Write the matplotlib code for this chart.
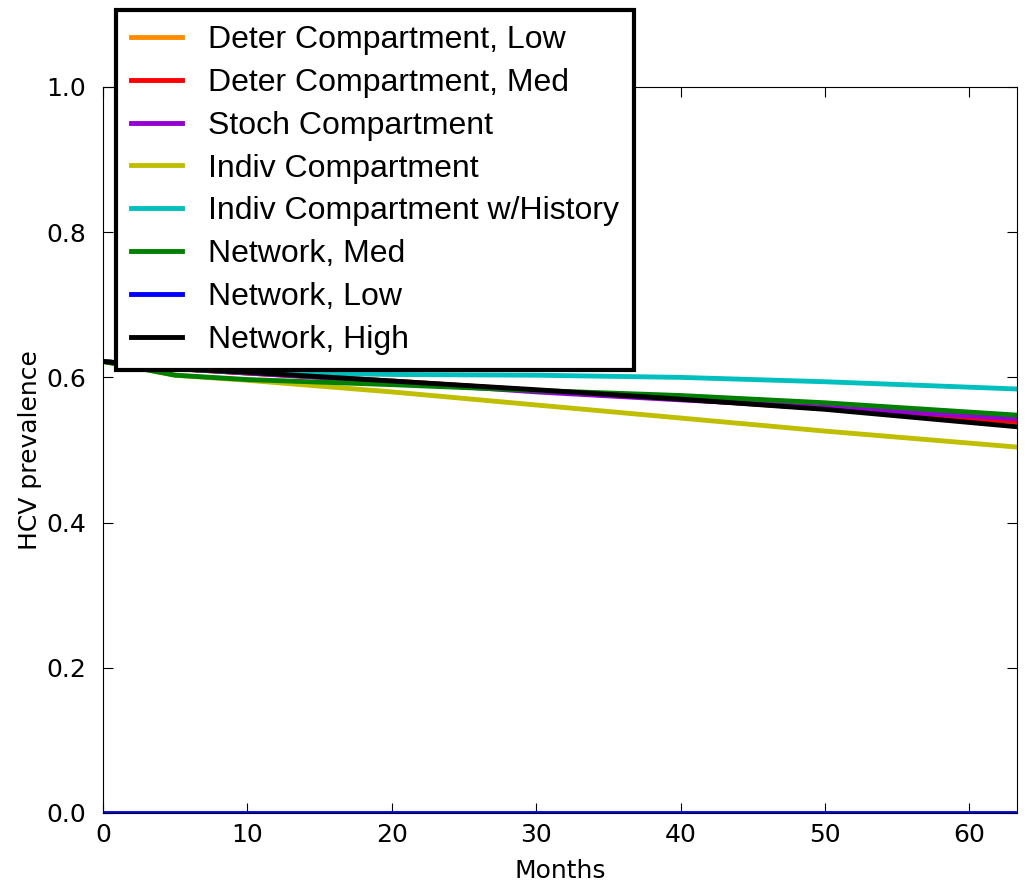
import numpy as np
import matplotlib
matplotlib.use("Agg")
import matplotlib.pyplot as plt

# -------------------------------
# 1. Data
# -------------------------------
months = [0, 5, 10, 20, 30, 40, 50, 63.3]

deter_low = [0.622, 0.612, 0.606, 0.595, 0.582, 0.570, 0.557, 0.539]
deter_med = [0.622, 0.612, 0.606, 0.595, 0.582, 0.570, 0.557, 0.539]
stoch = [0.622, 0.612, 0.606, 0.594, 0.580, 0.569, 0.559, 0.543]
indiv = [0.622, 0.603, 0.596, 0.580, 0.562, 0.544, 0.526, 0.504]
indiv_hist = [0.622, 0.612, 0.607, 0.604, 0.603, 0.600, 0.594, 0.584]
net_med = [0.622, 0.603, 0.597, 0.590, 0.582, 0.575, 0.565, 0.548]
net_low = [0.0, 0.0, 0.0, 0.0, 0.0, 0.0, 0.0, 0.0]
net_high = [0.622, 0.612, 0.607, 0.595, 0.583, 0.570, 0.556, 0.532]

labels = ["Deter Compartment, Low", "Deter Compartment, Med", "Stoch Compartment",
          "Indiv Compartment", "Indiv Compartment w/History", "Network, Med",
          "Network, Low", "Network, High"]
series = [deter_low, deter_med, stoch, indiv, indiv_hist, net_med, net_low, net_high]
colors = ["#ff8c00", "#ff0000", "#9400d3", "#bfbf00", "#00bfbf", "#008000", "#0000ff", "#000000"]

# -------------------------------
# 2. Plot
# -------------------------------
fig = plt.figure(figsize=(10.29, 8.85), dpi=100)
ax = fig.add_axes([0.1001, 0.0814, 0.8882, 0.8203])

handles = []
for y, c, lab in zip(series, colors, labels):
    h, = ax.plot(months, y, color=c, lw=3.5, label=lab)
    handles.append(h)

ax.set_xlim(0, months[-1])
ax.set_ylim(0, 1.0)
ax.set_xticks([0, 10, 20, 30, 40, 50, 60])
ax.set_yticks([0.0, 0.2, 0.4, 0.6, 0.8, 1.0])
ax.set_yticklabels(["0.0", "0.2", "0.4", "0.6", "0.8", "1.0"])
ax.tick_params(direction="in", top=True, right=True, labelsize=18, length=7)
ax.tick_params(axis="y", pad=12)
ax.tick_params(axis="x", pad=7)
ax.set_xlabel("Months", fontsize=18, labelpad=9)
ax.set_ylabel("HCV prevalence", fontsize=18, labelpad=3)

leg = ax.legend(handles=handles, loc="upper left", bbox_to_anchor=(116 / 1029, 1 - 10 / 885),
                bbox_transform=fig.transFigure, fancybox=False, framealpha=1,
                prop={"family": "Liberation Sans", "size": 23},
                handlelength=1.6, handletextpad=0.8, labelspacing=0.40, borderpad=0.48,
                borderaxespad=0)
leg.get_frame().set_edgecolor("black")
leg.get_frame().set_linewidth(3)

fig.savefig("out.png", dpi=100)
